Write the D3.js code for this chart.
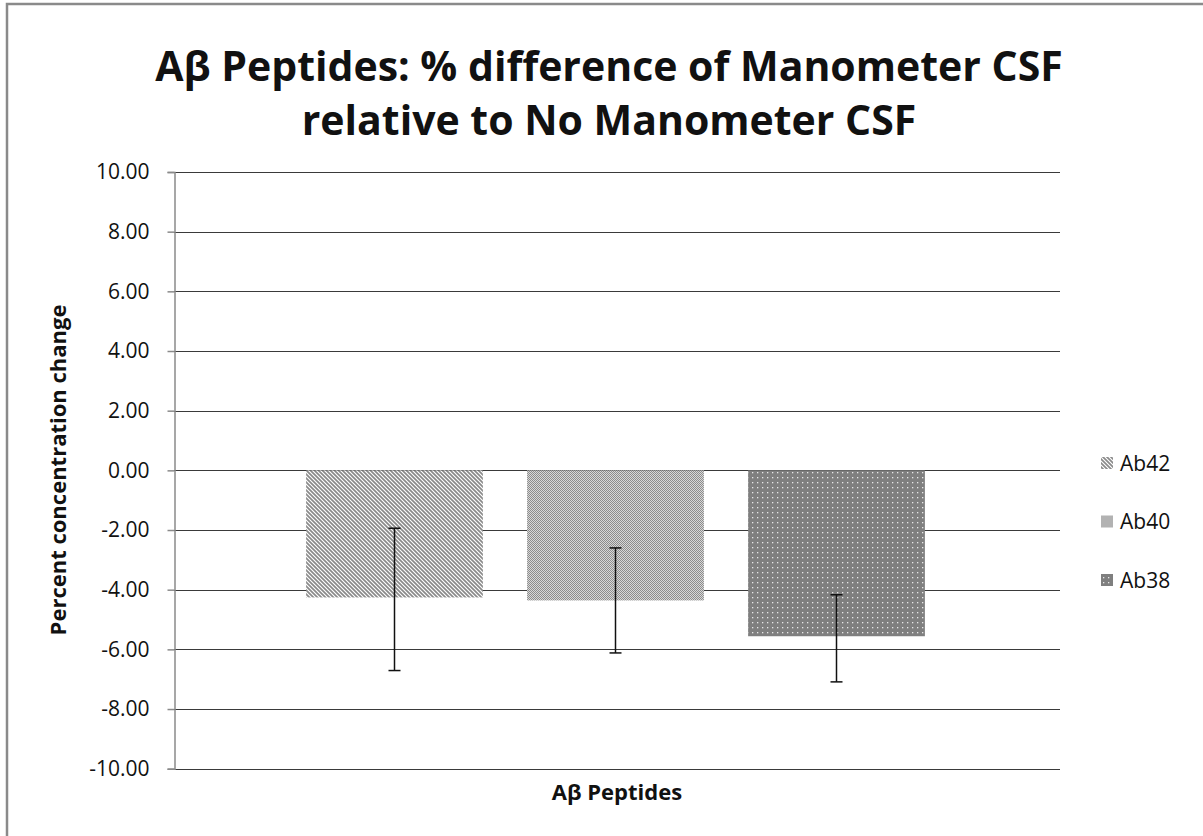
<!DOCTYPE html>
<html><head><meta charset="utf-8">
<script src="https://cdn.jsdelivr.net/npm/d3@7"></script>
<style>body{margin:0;background:#fff}svg{display:block}text{font-family:"Open Sans","Liberation Sans",sans-serif}</style>
</head><body><svg id="c" width="1203" height="836"></svg>
<script>
const series = ["Ab42", "Ab40", "Ab38"];
const values = [-4.26, -4.36, -5.56];
const errLow = [2.45, 1.76, 1.53];
const errHigh = [2.32, 1.76, 1.39];
const yTicks = [10, 8, 6, 4, 2, 0, -2, -4, -6, -8, -10];
const titleLines = ["Aβ Peptides: % difference of Manometer CSF", "relative to No Manometer CSF"];

const svg = d3.select("#c");
const defs = svg.append("defs");
// Ab42: wide downward diagonal
const p1 = defs.append("pattern").attr("id","p42").attr("patternUnits","userSpaceOnUse").attr("width",4).attr("height",4);
p1.append("rect").attr("width",4).attr("height",4).attr("fill","#fff");
p1.append("path").attr("d","M-1,-1 L5,5 M-1,3 L1,5 M3,-1 L5,1").attr("stroke","#8a8a8a").attr("stroke-width",1.7);
// Ab40: fine checker
const p2 = defs.append("pattern").attr("id","p40").attr("patternUnits","userSpaceOnUse").attr("width",2).attr("height",2);
p2.append("rect").attr("width",2).attr("height",2).attr("fill","#d8d8d8");
p2.append("rect").attr("width",1).attr("height",1).attr("fill","#8c8c8c");
p2.append("rect").attr("x",1).attr("y",1).attr("width",1).attr("height",1).attr("fill","#8c8c8c");
// Ab38: dark with white dots
const p3 = defs.append("pattern").attr("id","p38").attr("patternUnits","userSpaceOnUse").attr("width",5).attr("height",5);
p3.append("rect").attr("width",5).attr("height",5).attr("fill","#7f7f7f");
p3.append("rect").attr("x",2).attr("y",2).attr("width",1.3).attr("height",1.3).attr("fill","#e8e8e8");
const fills = {Ab42:"url(#p42)", Ab40:"url(#p40)", Ab38:"url(#p38)"};

// outer border
svg.append("rect").attr("x",7).attr("y",4).attr("width",1210).attr("height",850)
  .attr("fill","none").attr("stroke","#8a8a8a").attr("stroke-width",2.5);

const y = d3.scaleLinear().domain([-10,10]).range([768.7,172]);
const x = d3.scaleBand().domain(series).range([284,947]).paddingInner(0.2).paddingOuter(0.1);
const left = 174, right = 1060;

// gridlines
svg.append("g").selectAll("line").data(yTicks).join("line")
  .attr("x1",left).attr("x2",right).attr("y1",d=>Math.round(y(d))+0.5).attr("y2",d=>Math.round(y(d))+0.5)
  .attr("stroke","#3a3a3a").attr("stroke-width",1.2);

// y axis
const fmt = d3.format(".2f");
const yAxis = d3.axisLeft(y).tickValues(yTicks).tickFormat(d=>fmt(d).replace("−","-")).tickSize(7).tickPadding(18);
const ga = svg.append("g").attr("transform",`translate(${left+0.5},0)`).call(yAxis);
ga.select(".domain").attr("stroke","#8a8a8a").attr("stroke-width",1.5);
ga.selectAll(".tick line").attr("stroke","#8a8a8a").attr("stroke-width",1.5);
ga.selectAll(".tick text").attr("font-size",21).attr("fill","#111")
  .style("font-family",'"Open Sans","Liberation Sans",sans-serif');

// bars
svg.append("g").selectAll("rect").data(series).join("rect")
  .attr("x",d=>x(d)).attr("width",x.bandwidth())
  .attr("y",y(0)).attr("height",(d,i)=>y(values[i])-y(0))
  .attr("fill",d=>fills[d]);

// error bars
const eg = svg.append("g").attr("stroke","#111").attr("stroke-width",1.5);
series.forEach((s,i)=>{
  const cx = x(s)+x.bandwidth()/2;
  const top = y(values[i]+errHigh[i]), bot = y(values[i]-errLow[i]);
  eg.append("line").attr("x1",cx).attr("x2",cx).attr("y1",top).attr("y2",bot);
  eg.append("line").attr("x1",cx-6).attr("x2",cx+6).attr("y1",top).attr("y2",top);
  eg.append("line").attr("x1",cx-6).attr("x2",cx+6).attr("y1",bot).attr("y2",bot);
});

// title
svg.append("g").selectAll("text").data(titleLines).join("text")
  .attr("x",609).attr("y",(d,i)=>81+i*54).attr("text-anchor","middle")
  .attr("font-size",41).attr("font-weight","bold").attr("fill","#111").text(d=>d);

// axis titles
svg.append("text").attr("transform","translate(66,470) rotate(-90)").attr("text-anchor","middle")
  .attr("font-size",22).attr("font-weight","bold").attr("fill","#111").text("Percent concentration change");
svg.append("text").attr("x",617).attr("y",800).attr("text-anchor","middle")
  .attr("font-size",22).attr("font-weight","bold").attr("fill","#111").text("Aβ Peptides");

// legend
const lg = svg.append("g").selectAll("g").data(series).join("g")
  .attr("transform",(d,i)=>`translate(1101,${463+i*58.5})`);
lg.append("rect").attr("x",0).attr("y",-6).attr("width",12).attr("height",12).attr("fill",d=>fills[d]);
lg.append("text").attr("x",19).attr("y",7.5).attr("font-size",21).attr("fill","#111").text(d=>d);
</script></body></html>
